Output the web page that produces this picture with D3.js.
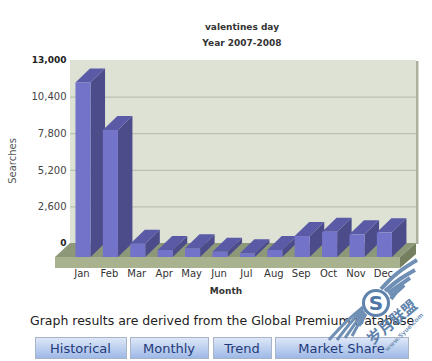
<!DOCTYPE html>
<html>
<head>
<meta charset="utf-8">
<script src="https://cdn.jsdelivr.net/npm/d3@7"></script>
<style>
  html, body { margin: 0; padding: 0; background: #fff; }
  svg { display: block; }
  text { font-family: "DejaVu Sans", sans-serif; }
</style>
</head>
<body>
<svg class="chart"></svg>
<script>
const svgWidth = 432;
const svgHeight = 361;

const months = ['Jan', 'Feb', 'Mar', 'Apr', 'May', 'Jun', 'Jul', 'Aug', 'Sep', 'Oct', 'Nov', 'Dec'];
const searches = [12400, 9020, 950, 500, 620, 370, 260, 500, 1490, 1800, 1610, 1750];
const yTicks = [0, 2600, 5200, 7800, 10400, 13000];
const boldTicks = [0, 13000];
const buttonLabels = ['Historical', 'Monthly', 'Trend', 'Market Share'];
const buttonEdges = [35, 130, 213, 275];
const buttonWidths = [91, 78, 58, 133];

const depthX = 14.5; // 3d offset of the back face
const depthY = 14;

const svg = d3.select('.chart')
  .attr('width', svgWidth)
  .attr('height', svgHeight);

const defs = svg.append('defs');
const grad = defs.append('linearGradient')
  .attr('id', 'btn')
  .attr('x1', 0).attr('x2', 0).attr('y1', 0).attr('y2', 1);
grad.append('stop').attr('offset', '0%').attr('stop-color', '#dfe8f8');
grad.append('stop').attr('offset', '100%').attr('stop-color', '#9db8e6');

const x = d3.scaleBand()
  .domain(months)
  .range([69.3, 398.1])
  .paddingInner(0.45)
  .paddingOuter(0.225);

const y = d3.scaleLinear()
  .domain([0, 13000])
  .range([243, 60]);

const wallLeft = 70;
const wallRight = 416;
const floorLeft = 55;
const floorRight = 400;
const floorFront = y(0) + depthY;
const floorThick = 11;

// back wall + its shadow
svg.append('rect')
  .attr('x', wallRight).attr('y', y(13000) + 1)
  .attr('width', 2.5).attr('height', y(0) - y(13000))
  .attr('fill', '#adb1a0');
svg.append('rect')
  .attr('x', wallLeft).attr('y', y(13000))
  .attr('width', wallRight - wallLeft).attr('height', y(0) - y(13000))
  .attr('fill', '#dde2d4');

// grid
svg.append('g').selectAll('line')
  .data(yTicks.slice(1, 5))
  .join('line')
    .attr('x1', wallLeft).attr('x2', wallRight)
    .attr('y1', d => y(d) + 0.5).attr('y2', d => y(d) + 0.5)
    .attr('stroke', '#b4bbaa');

// floor
const floor = svg.append('g');
floor.append('polygon')
  .attr('points', [[floorLeft, floorFront], [wallLeft, y(0)], [wallRight, y(0)], [floorRight, floorFront]].join(' '))
  .attr('fill', '#8d9878');
floor.append('polygon')
  .attr('points', [[floorRight, floorFront], [wallRight, y(0)], [wallRight, y(0) + floorThick], [floorRight, floorFront + floorThick]].join(' '))
  .attr('fill', '#757f60');
floor.append('rect')
  .attr('x', floorLeft).attr('y', floorFront)
  .attr('width', floorRight - floorLeft).attr('height', floorThick)
  .attr('fill', '#a8b28f');

// y axis
const yAxis = svg.append('g')
  .attr('transform', `translate(${wallLeft - 3.5},0)`)
  .call(d3.axisLeft(y).tickValues(yTicks).tickSize(0).tickPadding(0).tickFormat(d3.format(',')));
yAxis.select('.domain').remove();
yAxis.selectAll('text')
  .attr('fill', d => boldTicks.includes(d) ? '#222' : '#444')
  .style('font-family', '"DejaVu Sans", sans-serif')
  .style('font-size', d => boldTicks.includes(d) ? '9px' : '10px')
  .style('font-weight', d => boldTicks.includes(d) ? 'bold' : 'normal');

// bars
const bars = svg.append('g').selectAll('g')
  .data(months)
  .join('g');

function barFront(i) {
  return y(searches[i]) + depthY;
}

bars.append('polygon') // side
  .attr('points', (d, i) => {
    const r = x(d) + x.bandwidth();
    return [[r, barFront(i)], [r + depthX, barFront(i) - depthY], [r + depthX, floorFront - depthY], [r, floorFront]].join(' ');
  })
  .attr('fill', '#4c4c8a');
bars.append('polygon') // top
  .attr('points', (d, i) => {
    const l = x(d), r = l + x.bandwidth();
    return [[l, barFront(i)], [l + depthX, barFront(i) - depthY], [r + depthX, barFront(i) - depthY], [r, barFront(i)]].join(' ');
  })
  .attr('fill', '#5a5aa6');
bars.append('rect') // front
  .attr('x', d => x(d))
  .attr('y', (d, i) => barFront(i))
  .attr('width', x.bandwidth())
  .attr('height', (d, i) => floorFront - barFront(i))
  .attr('fill', '#7373c9');

// x axis
const xAxis = svg.append('g')
  .attr('transform', 'translate(-1,270)')
  .call(d3.axisBottom(x).tickSize(0).tickPadding(0));
xAxis.select('.domain').remove();
xAxis.selectAll('text')
  .attr('fill', '#333')
  .style('font-family', '"DejaVu Sans", sans-serif')
  .style('font-size', '10px');

// titles
svg.append('text').text('valentines day')
  .attr('x', 242).attr('y', 30)
  .attr('text-anchor', 'middle').attr('fill', '#333')
  .style('font-size', '9px').style('font-weight', 'bold');
svg.append('text').text('Year 2007-2008')
  .attr('x', 242).attr('y', 46)
  .attr('text-anchor', 'middle').attr('fill', '#333')
  .style('font-size', '9px').style('font-weight', 'bold');
svg.append('text').text('Month')
  .attr('x', 226).attr('y', 294)
  .attr('text-anchor', 'middle').attr('fill', '#333')
  .style('font-size', '9px').style('font-weight', 'bold');
svg.append('text').text('Searches')
  .attr('transform', 'translate(16,161) rotate(-90)')
  .attr('text-anchor', 'middle').attr('fill', '#555')
  .style('font-size', '10px');

// note under the chart
svg.append('text').text('Graph results are derived from the Global Premium Database')
  .attr('x', 30).attr('y', 325)
  .attr('fill', '#222')
  .style('font-size', '12.5px');

// buttons
const buttons = svg.append('g').selectAll('g')
  .data(buttonLabels)
  .join('g')
    .attr('transform', (d, i) => `translate(${buttonEdges[i]},337)`);
buttons.append('rect')
  .attr('x', 0.5).attr('y', 0.5)
  .attr('width', (d, i) => buttonWidths[i]).attr('height', 21)
  .attr('fill', 'url(#btn)')
  .attr('stroke', '#a9b4c6');
buttons.append('text')
  .text(d => d)
  .attr('x', (d, i) => buttonWidths[i] / 2)
  .attr('y', 16)
  .attr('text-anchor', 'middle')
  .attr('fill', '#1f3a7a')
  .style('font-size', '13px');

// watermark
const mark = svg.append('g').attr('transform', 'translate(376,303)');
const wing = d3.line().curve(d3.curveBasis);
const upperFeathers = [
  [[5, -14], [20, -30], [41, -43]],
  [[9, -12], [23, -24], [39, -33]],
  [[12, -10], [24, -18], [34, -25]],
  [[14, -7], [22, -12], [28, -18]],
  [[15, -4], [18, -8], [21, -12]]
];
const lowerFeathers = [
  [[-13, 4], [-30, 18], [-47, 37]],
  [[-13, 6], [-26, 20], [-39, 37]],
  [[-12, 8], [-22, 22], [-31, 35]],
  [[-11, 10], [-18, 22], [-24, 33]],
  [[-10, 11], [-14, 18], [-17, 23]]
];
mark.selectAll('path.up')
  .data(upperFeathers)
  .join('path')
    .attr('class', 'up')
    .attr('d', d => wing(d))
    .attr('fill', 'none').attr('stroke', '#6f8fb5').attr('stroke-width', 4);
mark.selectAll('path.down')
  .data(lowerFeathers)
  .join('path')
    .attr('class', 'down')
    .attr('d', d => wing(d))
    .attr('fill', 'none').attr('stroke', '#6f8fb5').attr('stroke-width', 3);
mark.append('circle')
  .attr('r', 12.5).attr('fill', '#fff')
  .attr('stroke', '#5f83ad').attr('stroke-width', 3);
mark.append('text').text('S')
  .attr('text-anchor', 'middle').attr('y', 7)
  .attr('fill', '#4f76a6')
  .style('font-size', '20px').style('font-weight', 'bold');
mark.append('text').text('岁月联盟')
  .attr('transform', 'translate(16,19) rotate(-40)')
  .attr('text-anchor', 'middle').attr('dy', '0.35em')
  .attr('fill', '#5f83ad')
  .style('font-family', '"Noto Sans CJK SC", sans-serif')
  .style('font-size', '15px').style('font-weight', 'bold');
mark.append('text').text('www.Syue.com')
  .attr('transform', 'translate(28,29) rotate(-45)')
  .attr('text-anchor', 'middle').attr('dy', '0.35em')
  .attr('fill', '#7d9abb')
  .style('font-size', '6px').style('font-weight', 'bold');
</script>
</body>
</html>
